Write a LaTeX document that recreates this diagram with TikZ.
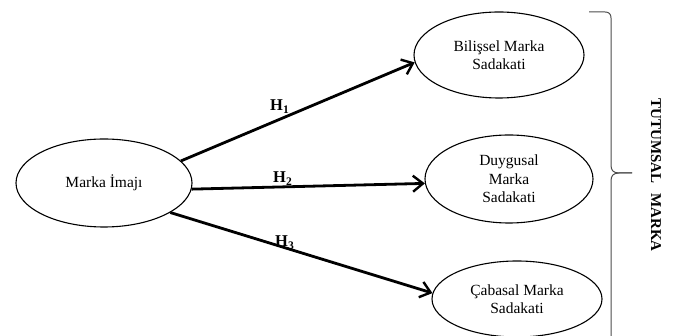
\documentclass[tikz,border=0pt]{standalone}
\usepackage{fontspec}
\setmainfont{Liberation Serif}
\usetikzlibrary{arrows.meta,shapes.geometric}
\begin{document}
\begin{tikzpicture}[x=1pt,y=-1pt,
  oval/.style={draw,ellipse,line width=1.1pt,inner sep=0pt,align=center,
    font=\fontsize{15.5}{18.5}\selectfont},
  hyp/.style={-{Straight Barb[length=10pt,width=16pt,line width=2.4pt]},line width=2.8pt},
  hlab/.style={font=\fontsize{16.5}{18}\selectfont\bfseries,inner sep=0pt,anchor=base west},
  brace/.style={line width=1pt,draw=black!70}]
\useasboundingbox (0,0) rectangle (675,336);
\node[oval,minimum width=176pt,minimum height=88pt] (mi) at (104,183) {Marka İmajı};
\node[oval,minimum width=170pt,minimum height=86pt] (bs) at (499,55) {Bilişsel Marka\\Sadakati};
\node[oval,minimum width=168pt,minimum height=88pt] (dy) at (509,179) {Duygusal\\Marka\\Sadakati};
\node[oval,minimum width=170pt,minimum height=76pt] (cs) at (517,299) {Çabasal Marka\\Sadakati};
\draw[hyp] (mi.16) -- (bs.185);
\draw[hyp] (mi.356) -- (dy.183);
\draw[hyp] (mi.336) -- (cs.176);
\node[hlab] (h1) at (270,111) {H\textsubscript{1}};
\node[hlab] (h2) at (273,183) {H\textsubscript{2}};
\node[hlab] (h3) at (275,247) {H\textsubscript{3}};
\coordinate (bt) at (589,12);
\coordinate (bm) at (632,173);
\coordinate (bb) at (611,338);
\draw[brace] (bt) -- (605,12) .. controls (609,12) and (611,14) .. (611,18)
  -- (611,165) .. controls (611,170) and (613,173) .. (619,173) -- (bm);
\draw[brace] (bm) -- (619,173) .. controls (613,173) and (611,176) .. (611,181) -- (bb);
\node[rotate=-90,font=\fontsize{15}{18}\selectfont\bfseries,inner sep=0pt] (tm) at (656,175) {TUTUMSAL\hspace{6pt} MARKA};
\end{tikzpicture}
\end{document}
